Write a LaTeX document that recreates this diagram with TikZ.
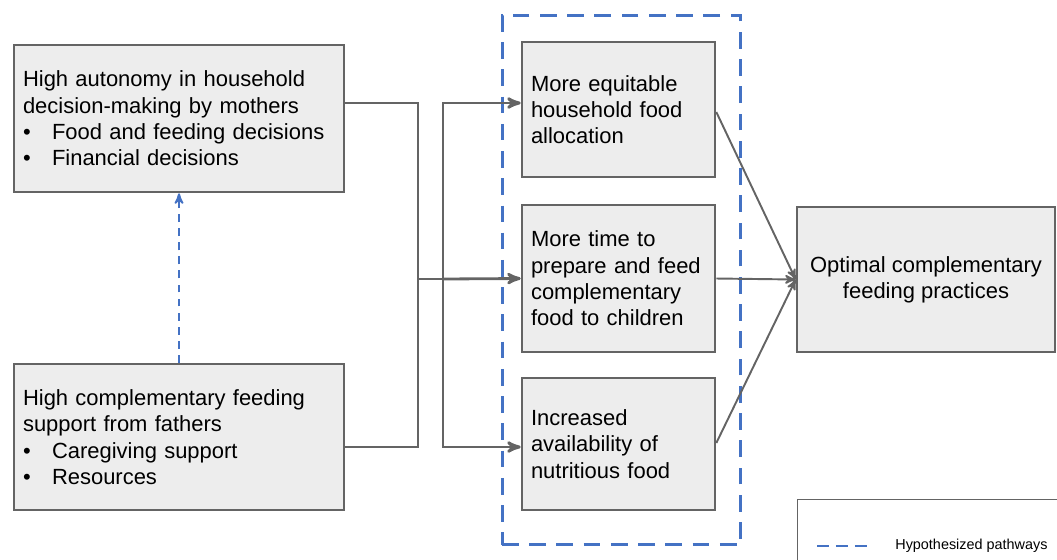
\documentclass[tikz,border=0pt]{standalone}
\usepackage{fontspec}
\setmainfont{Liberation Sans}
\usetikzlibrary{arrows}
\definecolor{boxgray}{HTML}{EDEDED}
\definecolor{edgegray}{HTML}{646464}
\definecolor{hypblue}{HTML}{4472C4}
\newcommand{\bul}{\makebox[0.58cm][l]{\textbullet}}
\tikzset{%
	bx/.style={draw=edgegray, line width=1.5pt, fill=boxgray, inner xsep=0.18cm, align=left,
		font=\fontsize{12.5}{15}\selectfont},
	conn/.style={draw=edgegray, line width=1.6pt},
	arrow/.style={conn,->,>=stealth'},
	thin arrow/.style={draw=edgegray, line width=1.1pt,->,>=stealth'},
	hyp/.style={draw=hypblue, line width=1.1pt, dash pattern=on 4.5pt off 3.5pt},
	hypbox/.style={draw=hypblue, line width=1.7pt, dash pattern=on 9.5pt off 6pt}}

\begin{document}
\begin{tikzpicture}[x=0.02cm, y=-0.02cm]
		\useasboundingbox (0,0) rectangle (1057,559);
		% left boxes
		\node[bx, text width=6.24cm, minimum height=2.94cm] (MO) at (179,118.5)
			{High autonomy in household\\decision-making by mothers\\\bul Food and feeding decisions\\\bul Financial decisions};
		\node[bx, text width=6.24cm, minimum height=2.92cm] (FA) at (179,437)
			{High complementary feeding\\support from fathers\\\bul Caregiving support\\\bul Resources};
		% middle boxes
		\node[hypbox, minimum width=4.78cm, minimum height=10.6cm] (HB) at (621.5,280) {};
		\node[bx, text width=3.5cm, minimum height=2.7cm] (FD) at (618.5,109.5)
			{More equitable\\household food\\allocation};
		\node[bx, text width=3.5cm, minimum height=2.94cm] (TI) at (618.5,278.5)
			{More time to\\prepare and feed\\complementary\\food to children};
		\node[bx, text width=3.5cm, minimum height=2.64cm] (AV) at (618.5,444)
			{Increased\\availability of\\nutritious food};
		% outcome
		\node[bx, align=center, minimum width=5.16cm, minimum height=2.9cm] (OP) at (926,279.5)
			{Optimal complementary\\feeding practices};
		
		\coordinate (LJ) at (418,279);
		\coordinate (RJ) at (443,279);
		\draw[conn] (MO.east |- 0,103) -| (LJ) |- (FA.east |- 0,447);
		\draw[conn] (LJ) -- (RJ);
		\draw[arrow] (RJ) |- (FD.west |- 0,103);
		\draw[arrow] (RJ) -- (TI.west);
		\draw[arrow] (RJ) |- (AV.west |- 0,447);
		\draw[thin arrow] (FD.east |- 0,112) -- (OP.west);
		\draw[thin arrow] (TI.east) -- (OP.west);
		\draw[thin arrow] (AV.east |- 0,443) -- (OP.west);
		\draw[hyp,->,>=stealth'] (FA.north) -- (MO.south);
		% legend
		\draw[draw=edgegray, line width=0.5pt] (797,575) |- (1075,499);
		\coordinate (LA) at (817,546);
		\coordinate (LB) at (867,546);
		\draw[hyp, line width=1.5pt, dash pattern=on 6.8pt off 4pt] (LA) -- (LB);
		\node[anchor=west, inner sep=0pt, font=\fontsize{8.2}{10}\selectfont] (LT) at (895,546) {Hypothesized pathways};
	\end{tikzpicture}
\end{document}
